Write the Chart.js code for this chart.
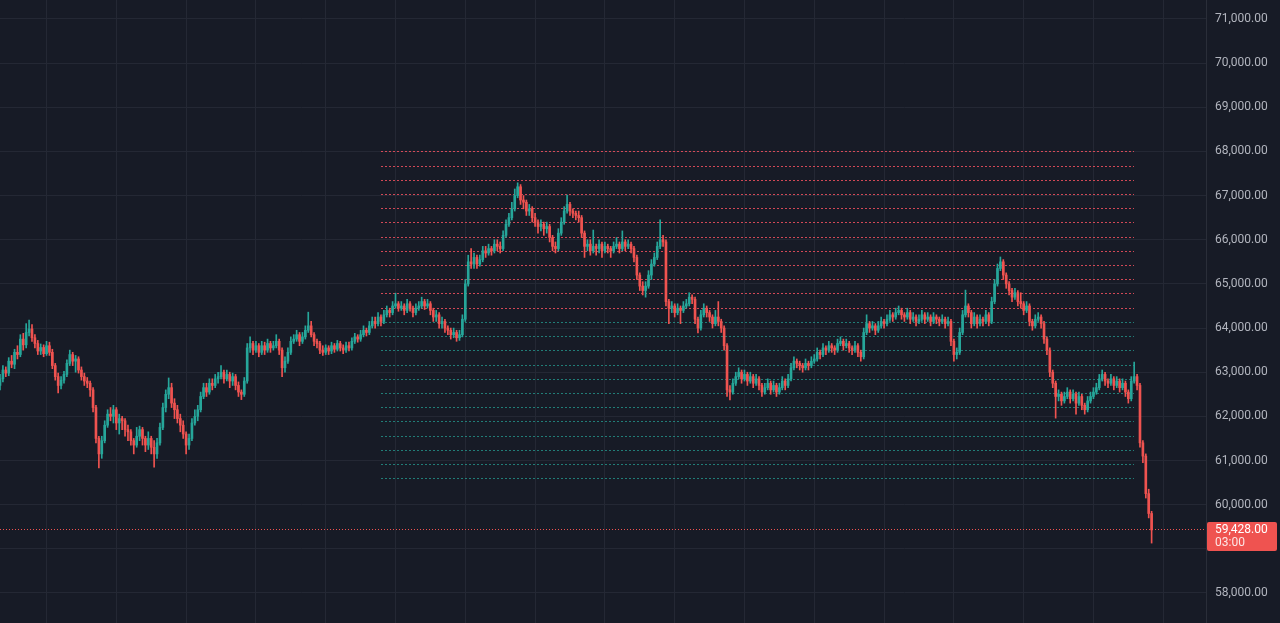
<!DOCTYPE html>
<html><head><meta charset="utf-8">
<script src="https://cdn.jsdelivr.net/npm/chart.js@4.4.1/dist/chart.umd.min.js"></script>
<style>html,body{margin:0;padding:0;background:#171b26;overflow:hidden}#wrap{width:1280px;height:623px}</style>
</head><body><div id="wrap"><canvas id="c" width="1280" height="623"></canvas></div>
<script>
const opens=[
62700,62850,63050,62980,63250,63180,63450,63400,63750,63620,
63900,63980,63780,63650,63480,63560,63420,63600,63450,63150,
62900,62700,62820,62950,63200,63400,63250,63300,63050,62900,
62800,62750,62600,62200,61500,61150,61450,61800,62050,62000,
62150,61850,61950,61900,61700,61650,61450,61350,61550,61700,
61500,61350,61500,61300,61150,61400,61750,62200,62500,62650,
62300,62150,61950,61800,61600,61350,61500,61850,62000,62150,
62450,62650,62550,62750,62700,62850,62900,63000,62850,62950,
62800,62900,62700,62550,62500,62800,63550,63650,63500,63600,
63450,63600,63500,63650,63550,63600,63700,63500,63100,63250,
63450,63700,63750,63850,63700,63800,63950,64050,63850,63700,
63650,63500,63450,63550,63480,63600,63520,63650,63550,63500,
63600,63550,63700,63800,63750,63850,63950,63900,64050,64150,
64100,64250,64150,64300,64400,64350,64500,64550,64450,64500,
64400,64550,64450,64350,64450,64500,64600,64500,64550,64400,
64250,64300,64100,64150,64000,63950,63850,63900,63780,63850,
64200,65000,65500,65450,65600,65450,65550,65750,65700,65800,
65750,65900,65850,65800,66100,66350,66500,66700,67000,67200,
66900,66850,66650,66700,66500,66400,66300,66350,66250,66300,
66050,65850,65800,66150,66400,66650,66800,66650,66600,66550,
66500,66150,65850,65900,65750,65850,65800,65900,65750,65850,
65800,65750,65850,65900,65800,65950,65850,65900,65800,65600,
65200,64950,64850,64950,65200,65450,65600,65850,66000,65950,
64600,64450,64500,64350,64450,64400,64500,64550,64700,64650,
64200,64000,64300,64450,64350,64250,64100,64250,64150,64000,
63600,62600,62550,62750,62900,63000,62850,62950,62800,62900,
62750,62850,62700,62550,62650,62750,62600,62700,62550,62650,
62800,62700,62850,63100,63250,63200,63150,63100,63200,63150,
63250,63300,63450,63400,63550,63500,63600,63550,63500,63650,
63700,63600,63650,63550,63500,63600,63450,63350,63900,64100,
64000,64050,63950,64050,64150,64100,64200,64300,64250,64350,
64400,64300,64250,64350,64200,64250,64150,64200,64300,64200,
64250,64150,64250,64200,64150,64200,64100,64150,63700,63400,
63450,63900,64300,64500,64350,64100,64250,64100,64200,64150,
64300,64150,64600,65000,65350,65500,65200,65000,64850,64700,
64800,64600,64550,64400,64500,64150,64050,64200,64250,64100,
63750,63500,63000,62750,62450,62500,62350,62450,62550,62400,
62500,62300,62450,62250,62150,62350,62450,62550,62650,62850,
62950,62800,62750,62850,62700,62800,62650,62750,62550,62400,
62800,62900,62700,61400,61100,60250,59800];
const highs=[
62950,63150,63120,63330,63380,63520,63600,63850,63880,64100,
64180,64080,63850,63720,63640,63620,63700,63680,63520,63200,
62980,62900,63020,63280,63500,63450,63380,63350,63120,62980,
62880,62800,62650,62250,61550,61550,61900,62150,62200,62250,
62200,62050,62000,61950,61800,61700,61500,61750,61780,61750,
61550,61650,61550,61450,61500,61850,62300,62600,62870,62750,
62400,62250,62050,61900,61650,61600,61950,62150,62250,62550,
62750,62750,62850,62850,62950,63000,63150,63050,63050,63000,
62980,62950,62780,62600,62880,63650,63800,63700,63700,63650,
63700,63680,63750,63700,63700,63850,63750,63550,63350,63550,
63800,63850,63950,63900,63900,64050,64360,64150,63900,63750,
63700,63600,63620,63600,63680,63650,63720,63700,63620,63680,
63680,63780,63880,63850,63950,64050,64000,64150,64250,64250,
64350,64300,64400,64500,64450,64600,64790,64600,64600,64550,
64650,64600,64500,64550,64600,64700,64650,64650,64600,64450,
64400,64350,64250,64200,64050,64000,64000,63950,63950,64300,
65100,65650,65800,65700,65650,65650,65850,65850,65900,65850,
66000,66000,65950,66200,66450,66600,66850,67150,67290,67250,
67000,66900,66800,66750,66600,66450,66450,66400,66400,66350,
66100,65950,66250,66500,66750,67010,66850,66700,66650,66650,
66550,66200,66000,66000,66220,65900,66000,65950,65950,65900,
65850,65950,66050,65950,66200,66000,66000,65950,65850,65650,
65250,65050,65050,65300,65550,65700,65950,66450,66100,66000,
64650,64600,64550,64550,64500,64600,64650,64800,64750,64700,
64250,64400,64550,64500,64400,64300,64400,64600,64200,64050,
63650,62700,62850,63000,63100,63050,63050,63000,63000,62950,
62950,62900,62750,62750,62850,62800,62800,62750,62750,62900,
62850,62950,63200,63350,63300,63250,63200,63300,63250,63350,
63400,63550,63500,63650,63600,63700,63650,63600,63750,63800,
63750,63750,63700,63600,63700,63650,63500,64000,64300,64150,
64150,64100,64150,64250,64200,64300,64400,64350,64450,64500,
64450,64350,64450,64400,64350,64300,64300,64400,64350,64350,
64300,64350,64300,64250,64300,64250,64250,64200,63750,63550,
64000,64400,64860,64550,64400,64350,64300,64300,64250,64400,
64350,64700,65100,65450,65610,65550,65250,65050,64900,64900,
64850,64800,64600,64600,64550,64200,64300,64350,64300,64150,
63800,63550,63050,62800,62600,62550,62550,62650,62600,62600,
62550,62550,62500,62300,62450,62550,62650,62750,62950,63050,
63000,62850,62950,62900,62900,62850,62850,62800,62600,62900,
63230,62950,62750,61450,61150,60350,59850];
const lows=[
62600,62780,62900,62920,63100,63080,63300,63350,63500,63550,
63820,63700,63550,63400,63400,63350,63380,63380,63080,62820,
62530,62620,62750,62900,63150,63150,63000,62980,62820,62700,
62650,62450,62100,61400,60830,61050,61400,61750,61900,61850,
61700,61600,61700,61550,61450,61350,61150,61300,61450,61350,
61200,61250,61150,60850,61050,61350,61700,62100,62400,62200,
61950,61850,61650,61500,61150,61250,61450,61800,61900,62100,
62400,62450,62500,62600,62650,62750,62850,62750,62800,62650,
62700,62600,62450,62380,62450,62750,63450,63400,63450,63350,
63400,63400,63450,63450,63500,63550,63400,62900,63000,63200,
63400,63650,63700,63600,63650,63750,63900,63800,63600,63550,
63420,63380,63400,63400,63420,63450,63480,63480,63420,63450,
63480,63500,63650,63680,63700,63800,63820,63850,64000,64000,
64050,64050,64100,64250,64250,64300,64450,64380,64400,64300,
64350,64380,64250,64300,64400,64450,64420,64450,64300,64150,
64150,64000,64000,63900,63850,63750,63780,63700,63720,63800,
64150,64950,65350,65350,65350,65400,65500,65600,65650,65650,
65700,65750,65700,65750,66050,66300,66450,66650,66950,66800,
66700,66550,66550,66400,66300,66150,66200,66100,66150,65950,
65750,65700,65750,66100,66350,66600,66550,66500,66450,66400,
66050,65600,65750,65650,65700,65650,65700,65600,65700,65700,
65600,65700,65800,65700,65750,65750,65800,65700,65500,65100,
64850,64750,64700,64900,65100,65400,65550,65800,65850,64500,
64100,64350,64250,64300,64100,64350,64450,64500,64550,64100,
63890,63950,64250,64250,64150,64000,64050,64050,63900,63500,
62450,62370,62500,62700,62850,62750,62800,62700,62750,62650,
62700,62600,62450,62500,62600,62500,62550,62450,62500,62600,
62600,62650,62800,63050,63100,63050,63000,63050,63050,63100,
63200,63250,63300,63350,63400,63450,63450,63400,63450,63600,
63500,63550,63450,63400,63450,63350,63250,63300,63850,63900,
63950,63850,63900,64000,64000,64050,64150,64150,64200,64300,
64200,64150,64200,64100,64150,64050,64100,64150,64100,64150,
64050,64100,64100,64050,64100,64000,64050,63600,63250,63300,
63400,63850,64250,64250,64000,64050,64000,64050,64050,64100,
64050,64100,64550,64950,65300,65100,64900,64750,64600,64650,
64500,64450,64300,64350,64050,63950,64000,64150,64000,63650,
63400,62900,62650,61960,62350,62250,62300,62400,62300,62350,
62050,62250,62150,62050,62100,62300,62400,62500,62600,62800,
62700,62650,62700,62600,62650,62550,62600,62450,62300,62350,
62750,62600,61300,60950,60150,59700,59130];
const closes=[
62850,63050,62980,63250,63180,63450,63400,63750,63620,63900,
63980,63780,63650,63480,63560,63420,63600,63450,63150,62900,
62700,62820,62950,63200,63400,63250,63300,63050,62900,62800,
62750,62600,62200,61500,61150,61450,61800,62050,62000,62150,
61850,61950,61900,61700,61650,61450,61350,61550,61700,61500,
61350,61500,61300,61150,61400,61750,62200,62500,62650,62300,
62150,61950,61800,61600,61350,61500,61850,62000,62150,62450,
62650,62550,62750,62700,62850,62900,63000,62850,62950,62800,
62900,62700,62550,62500,62800,63550,63650,63500,63600,63450,
63600,63500,63650,63550,63600,63700,63500,63100,63250,63450,
63700,63750,63850,63700,63800,63950,64050,63850,63700,63650,
63500,63450,63550,63480,63600,63520,63650,63550,63500,63600,
63550,63700,63800,63750,63850,63950,63900,64050,64150,64100,
64250,64150,64300,64400,64350,64500,64550,64450,64500,64400,
64550,64450,64350,64450,64500,64600,64500,64550,64400,64250,
64300,64100,64150,64000,63950,63850,63900,63780,63850,64200,
65000,65500,65450,65600,65450,65550,65750,65700,65800,65750,
65900,65850,65800,66100,66350,66500,66700,67000,67200,66900,
66850,66650,66700,66500,66400,66300,66350,66250,66300,66050,
65850,65800,66150,66400,66650,66800,66650,66600,66550,66500,
66150,65850,65900,65750,65850,65800,65900,65750,65850,65800,
65750,65850,65900,65800,65950,65850,65900,65800,65600,65200,
64950,64850,64950,65200,65450,65600,65850,66000,65950,64600,
64450,64500,64350,64450,64400,64500,64550,64700,64650,64200,
64000,64300,64450,64350,64250,64100,64250,64150,64000,63600,
62600,62550,62750,62900,63000,62850,62950,62800,62900,62750,
62850,62700,62550,62650,62750,62600,62700,62550,62650,62800,
62700,62850,63100,63250,63200,63150,63100,63200,63150,63250,
63300,63450,63400,63550,63500,63600,63550,63500,63650,63700,
63600,63650,63550,63500,63600,63450,63350,63900,64100,64000,
64050,63950,64050,64150,64100,64200,64300,64250,64350,64400,
64300,64250,64350,64200,64250,64150,64200,64300,64200,64250,
64150,64250,64200,64150,64200,64100,64150,63700,63400,63450,
63900,64300,64500,64350,64100,64250,64100,64200,64150,64300,
64150,64600,65000,65350,65500,65200,65000,64850,64700,64800,
64600,64550,64400,64500,64150,64050,64200,64250,64100,63750,
63500,63000,62750,62450,62500,62350,62450,62550,62400,62500,
62300,62450,62250,62150,62350,62450,62550,62650,62850,62950,
62800,62750,62850,62700,62800,62650,62750,62550,62400,62800,
62900,62700,61400,61100,60250,59800,59428];
const sellLevels=[68000,67678,67357,67035,66713,66391,66070,65748,65426,65104,64783,64461];
const buyLevels=[64139,63817,63496,63174,62852,62530,62209,61887,61565,61243,60922,60600];
const levelSpan=[131,390];
const yTicks=[58000,59000,60000,61000,62000,63000,64000,65000,66000,67000,68000,69000,70000,71000];
const countdown='03:00';

const BG='#171b26', GRID='#242834', UP='#26a69a', DOWN='#ef5350';
const n=closes.length;
const bodies=[], wicks=[], colors=[];
for(let i=0;i<n;i++){
  bodies.push({x:i,y:[opens[i],closes[i]]});
  wicks.push({x:i,y:[lows[i],highs[i]]});
  colors.push(closes[i]>=opens[i]?UP:DOWN);
}
const lastPrice=closes[n-1];
const lastColor=colors[n-1];
const fmt=v=>v.toLocaleString('en-US',{minimumFractionDigits:2,maximumFractionDigits:2});

const bgPlugin={id:'bg',beforeDraw(c){const x=c.ctx;x.save();x.fillStyle=BG;x.fillRect(0,0,c.width,c.height);x.restore();}};
const levelPlugin={id:'levels',beforeDatasetsDraw(c){
  const x=c.ctx,xs=c.scales.x,ys=c.scales.y;
  const x0=Math.round(xs.getPixelForValue(levelSpan[0])),x1=Math.round(xs.getPixelForValue(levelSpan[1]));
  x.save();x.lineWidth=1;x.setLineDash([2,2]);
  const draw=(l,col)=>{const y=Math.round(ys.getPixelForValue(l))+0.5;x.strokeStyle=col;x.beginPath();x.moveTo(x0,y);x.lineTo(x1,y);x.stroke();};
  sellLevels.forEach(l=>draw(l,'rgba(242,80,95,0.85)'));
  buyLevels.forEach(l=>draw(l,'rgba(38,166,154,0.7)'));
  x.restore();}};
const pricePlugin={id:'price',
  afterDatasetsDraw(c){const x=c.ctx,a=c.chartArea,y=Math.round(c.scales.y.getPixelForValue(lastPrice))-0.5;
    x.save();x.strokeStyle='#ef5350';x.lineWidth=1;x.setLineDash([1,2]);
    x.beginPath();x.moveTo(a.left,y);x.lineTo(a.right,y);x.stroke();x.restore();},
  afterDraw(c){const x=c.ctx,a=c.chartArea,y=c.scales.y.getPixelForValue(lastPrice);
    x.save();x.fillStyle=lastColor;
    const bx=a.right+1,by=Math.round(y-7.5),bw=70,bh=29;
    x.beginPath();x.roundRect(bx,by,bw,bh,2);x.fill();
    x.fillStyle='#ffffff';x.font='12px Roboto';x.textBaseline='middle';x.textAlign='left';
    x.fillText(fmt(lastPrice),a.right+9,by+8);
    x.fillStyle='rgba(255,255,255,0.85)';
    x.fillText(countdown,a.right+9,by+21);
    x.restore();}
};

new Chart(document.getElementById('c'),{
  type:'bar',
  data:{datasets:[
    {type:'bar',data:wicks,backgroundColor:colors,barThickness:1,grouped:false,order:2},
    {type:'bar',data:bodies,backgroundColor:colors,barThickness:2,minBarLength:1,grouped:false,order:1}
  ]},
  options:{responsive:false,animation:false,events:[],layout:{padding:0,autoPadding:false},
    plugins:{legend:{display:false},tooltip:{enabled:false}},
    scales:{
      x:{type:'linear',min:0,max:414.7,offset:false,
        grid:{color:GRID,drawTicks:false,offset:false},border:{display:false},ticks:{display:false,padding:0},
        afterBuildTicks(s){const t=[];for(let v=16;v<=s.max;v+=24)t.push({value:v});s.ticks=t;},
        afterFit(s){s.height=0;s.paddingLeft=0;s.paddingRight=0;}},
      y:{position:'right',min:57320,max:71430,
        grid:{color:GRID,drawTicks:false},border:{display:true,color:'#2a2e39'},
        ticks:{padding:9,color:'#b2b5be',font:{family:'Roboto',size:12},
          callback:v=>Math.abs(v-lastPrice)<500?'':fmt(v)},
        afterBuildTicks(s){s.ticks=yTicks.map(v=>({value:v}));},
        afterFit(s){s.width=74;s.paddingTop=0;s.paddingBottom=0;}}
    }},
  plugins:[bgPlugin,levelPlugin,pricePlugin]
});
</script></body></html>
